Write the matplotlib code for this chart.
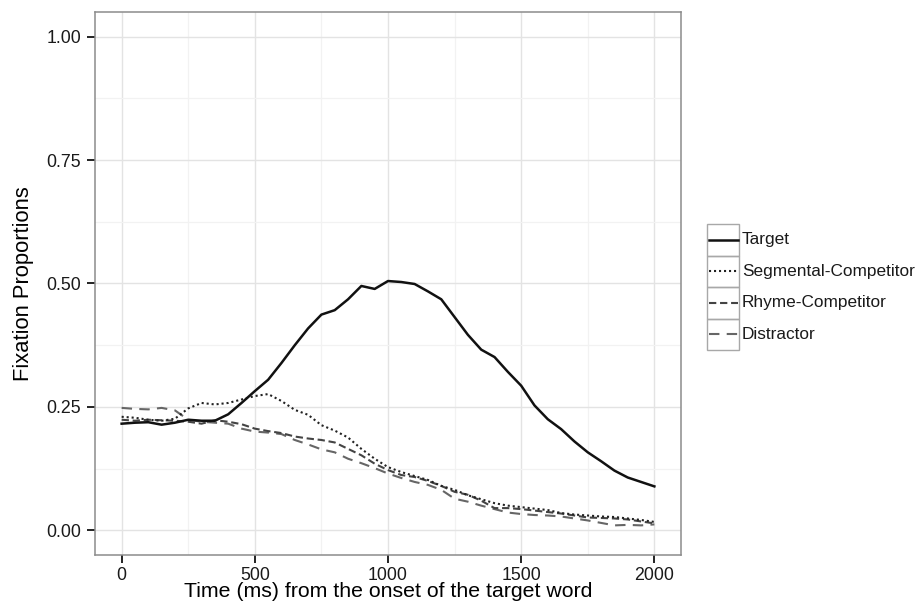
import numpy as np
import matplotlib
matplotlib.use('Agg')
import matplotlib.pyplot as plt
from matplotlib.patches import Rectangle

plt.rcParams['font.family'] = ['Liberation Sans', 'DejaVu Sans']

# time bins (ms)
time_ms = np.arange(0, 2001, 50)

target = [0.216, 0.218, 0.219, 0.214, 0.218, 0.224, 0.222, 0.222, 0.235, 0.258,
          0.282, 0.305, 0.339, 0.375, 0.409, 0.437, 0.446, 0.468, 0.495, 0.489,
          0.505, 0.503, 0.499, 0.484, 0.468, 0.432, 0.396, 0.366, 0.351, 0.321,
          0.293, 0.253, 0.225, 0.205, 0.180, 0.158, 0.140, 0.121, 0.107, 0.098,
          0.089]
segmental = [0.230, 0.228, 0.224, 0.222, 0.226, 0.247, 0.258, 0.255, 0.258, 0.265,
             0.272, 0.276, 0.262, 0.244, 0.234, 0.213, 0.202, 0.188, 0.165, 0.145,
             0.128, 0.118, 0.110, 0.102, 0.090, 0.082, 0.071, 0.063, 0.055, 0.050,
             0.047, 0.044, 0.041, 0.035, 0.032, 0.030, 0.028, 0.027, 0.024, 0.021,
             0.017]
rhyme = [0.224, 0.222, 0.224, 0.223, 0.222, 0.220, 0.216, 0.223, 0.220, 0.215,
         0.206, 0.201, 0.197, 0.190, 0.186, 0.183, 0.178, 0.165, 0.152, 0.135,
         0.122, 0.112, 0.108, 0.100, 0.090, 0.078, 0.072, 0.060, 0.045, 0.045,
         0.043, 0.040, 0.037, 0.034, 0.030, 0.026, 0.025, 0.024, 0.022, 0.018,
         0.014]
distractor = [0.248, 0.246, 0.245, 0.248, 0.243, 0.224, 0.220, 0.218, 0.216, 0.206,
              0.200, 0.198, 0.195, 0.183, 0.174, 0.164, 0.158, 0.145, 0.136, 0.126,
              0.115, 0.106, 0.098, 0.092, 0.082, 0.064, 0.058, 0.050, 0.043, 0.036,
              0.033, 0.031, 0.030, 0.028, 0.024, 0.020, 0.015, 0.010, 0.011, 0.010,
              0.012]

labels = ['Target', 'Segmental-Competitor', 'Rhyme-Competitor', 'Distractor']
series = [target, segmental, rhyme, distractor]
styles = [
    dict(color='#111111', lw=1.8, ls='-'),
    dict(color='#222222', lw=1.5, ls=(0, (1.0, 1.4))),
    dict(color='#444444', lw=1.5, ls=(0, (3.5, 1.8))),
    dict(color='#666666', lw=1.5, ls=(0, (5, 3.5))),
]

fig = plt.figure(figsize=(9.18, 6.05), dpi=100)
ax = fig.add_axes([95 / 918, 50 / 605, 586 / 918, 543 / 605])

# draw back to front so the target sits on top
for vals, st in list(zip(series, styles))[::-1]:
    ax.plot(time_ms, vals, **st)

ax.set_xlim(-100, 2100)
ax.set_ylim(-0.05, 1.05)
ax.set_xticks([0, 500, 1000, 1500, 2000])
ax.set_yticks([0, 0.25, 0.5, 0.75, 1.0])
ax.set_yticklabels(['0.00', '0.25', '0.50', '0.75', '1.00'])
ax.set_xticks([250, 750, 1250, 1750], minor=True)
ax.set_yticks([0.125, 0.375, 0.625, 0.875], minor=True)

ax.grid(True, which='major', color='#e3e3e3', lw=1.0)
ax.grid(True, which='minor', color='#f2f2f2', lw=0.9)
ax.set_axisbelow(True)
ax.tick_params(which='minor', length=0)
ax.tick_params(which='major', length=6, width=1.4, color='#222222',
               labelsize=12.8, labelcolor='#1a1a1a', pad=4)
ax.tick_params(axis='x', which='major', pad=2.5)
for sp in ax.spines.values():
    sp.set_color('#8c8c8c')
    sp.set_linewidth(1.1)

ax.set_xlabel('Time (ms) from the onset of the target word', fontsize=15.3,
              labelpad=-1)
ax.set_ylabel('Fixation Proportions', fontsize=15.8, labelpad=9)

# legend drawn as ggplot-style keys
lax = fig.add_axes([707 / 918, (605 - 350) / 605, 211 / 918, 126 / 605])
lax.set_xlim(0, 211)
lax.set_ylim(0, 126)
lax.axis('off')
row_h = 126 / len(labels)
for i, (lab, st) in enumerate(zip(labels, styles)):
    y0 = 126 - row_h * (i + 1)
    lax.add_patch(Rectangle((0, y0), 32, row_h, fill=False,
                            edgecolor='#a8a8a8', lw=1.0, clip_on=False))
    lax.plot([1.5, 30.5], [y0 + row_h / 2] * 2, clip_on=False, **st)
    lax.text(35, y0 + row_h / 2, lab, fontsize=12.4, va='center', ha='left',
             color='#1a1a1a')

fig.savefig('out.png', dpi=100)
